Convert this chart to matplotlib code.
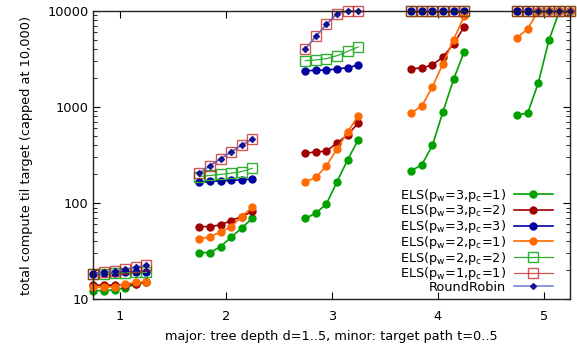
import matplotlib
matplotlib.use("Agg")
import matplotlib.pyplot as plt
import numpy as np

plt.rcParams['font.family'] = ['DejaVu Sans']
plt.rcParams['mathtext.default'] = 'regular'

# tree depth d and target path t
depths = [1, 2, 3, 4, 5]
targets = [0, 1, 2, 3, 4, 5]

# one row per depth, one value per target (capped at 10,000)
els_3_1 = [[12.3, 12.3, 12.5, 13.2, 14.3, 15.0],
           [30.6, 30.6, 35.3, 44.2, 54.9, 69.8],
           [69.2, 78.7, 98.4, 167, 283, 456],
           [217, 251, 398, 894, 1939, 3767],
           [825, 866, 1778, 4940, 10000, 10000]]
els_3_2 = [[14.0, 14.0, 14.0, 14.0, 14.5, 15.0],
           [57.0, 57.0, 59.4, 65.9, 72.5, 81.8],
           [332, 340, 348, 422, 515, 681],
           [2506, 2548, 2738, 3318, 4532, 6808],
           [10000, 10000, 10000, 10000, 10000, 10000]]
els_3_3 = [[18.4, 18.9, 18.9, 19.2, 19.1, 19.2],
           [164, 168, 171, 172, 175, 178],
           [2389, 2406, 2428, 2489, 2566, 2738],
           [10000, 10000, 10000, 10000, 10000, 10000],
           [10000, 10000, 10000, 10000, 10000, 10000]]
els_2_1 = [[13.3, 13.3, 13.5, 14.3, 15.0, 15.2],
           [42.2, 44.9, 49.9, 57.0, 72.5, 90.8],
           [167, 185, 245, 368, 549, 812],
           [866, 1024, 1616, 2826, 5025, 8790],
           [5230, 6540, 10000, 10000, 10000, 10000]]
els_2_2 = [[18.3, 18.5, 18.7, 18.8, 19.0, 19.0],
           [189, 194, 199, 205, 213, 230],
           [3035, 3090, 3185, 3422, 3795, 4217],
           [10000, 10000, 10000, 10000, 10000, 10000],
           [10000, 10000, 10000, 10000, 10000, 10000]]
els_1_1 = [[18.4, 19.0, 19.5, 20.5, 21.5, 22.5],
           [205, 246, 289, 340, 402, 462],
           [4020, 5440, 7250, 9370, 10000, 10000],
           [10000, 10000, 10000, 10000, 10000, 10000],
           [10000, 10000, 10000, 10000, 10000, 10000]]
round_robin = [[18.4, 19.0, 19.5, 20.5, 21.5, 22.5],
               [205, 246, 289, 340, 402, 462],
               [4020, 5440, 7250, 9370, 10000, 10000],
               [10000, 10000, 10000, 10000, 10000, 10000],
               [10000, 10000, 10000, 10000, 10000, 10000]]

series = [
    (els_3_1, r'ELS(p$_w$=3,p$_c$=1)',
     dict(color='#00a000', marker='o', ms=5, lw=1.2)),
    (els_3_2, r'ELS(p$_w$=3,p$_c$=2)',
     dict(color='#a00000', marker='o', ms=5, lw=1.2)),
    (els_3_3, r'ELS(p$_w$=3,p$_c$=3)',
     dict(color='#0000a0', marker='o', ms=5, lw=1.2)),
    (els_2_1, r'ELS(p$_w$=2,p$_c$=1)',
     dict(color='#ff6a00', marker='o', ms=5, lw=1.2)),
    (els_2_2, r'ELS(p$_w$=2,p$_c$=2)',
     dict(color='#30b030', marker='s', ms=6.5, lw=0.9, mfc='none', mew=1.0)),
    (els_1_1, r'ELS(p$_w$=1,p$_c$=1)',
     dict(color='#c01010', marker='s', ms=6.5, lw=0.9, mfc='none', mew=1.0,
          alpha=0.7)),
    (round_robin, 'RoundRobin',
     dict(color='#6070cc', marker='D', ms=3, lw=1.2, mfc='#00008b',
          mec='#00008b', alpha=0.85)),
]

fig = plt.figure(figsize=(5.77, 3.52), dpi=100)
ax = fig.add_axes([0.162, 0.150, 0.826, 0.819])

for values, label, style in series:
    for i, d in enumerate(depths):
        x = [d - 0.25 + 0.1 * t for t in targets]
        ax.plot(x, values[i], label=label if i == 0 else None,
                clip_on=False, **style)

ax.set_yscale('log')
ax.set_xlim(0.75, 5.25)
ax.set_ylim(10, 10000)
ax.set_xticks(depths)
ax.set_yticks([10, 100, 1000, 10000])
ax.set_yticklabels(['10', '100', '1000', '10000'])
ax.tick_params(which='both', direction='in', top=True, right=True,
               labelsize=9.3)
ax.tick_params(which='major', length=5)
ax.tick_params(which='minor', length=3)
ax.tick_params(axis='x', pad=8)
for sp in ax.spines.values():
    sp.set_linewidth(1.0)
    sp.set_color('#222222')

ax.set_xlabel('major: tree depth d=1..5, minor: target path t=0..5',
              fontsize=9.3, labelpad=5)
ax.set_ylabel('total compute til target (capped at 10,000)', fontsize=9.3,
              labelpad=10)

ax.legend(loc='lower right', bbox_to_anchor=(0.958, 0.165),
          bbox_transform=fig.transFigure, frameon=False, markerfirst=False,
          fontsize=9.3, handlelength=3.0, labelspacing=-0.1,
          handletextpad=0.6, borderpad=0, borderaxespad=0)

plt.savefig('out.png', dpi=100)
plt.close()
